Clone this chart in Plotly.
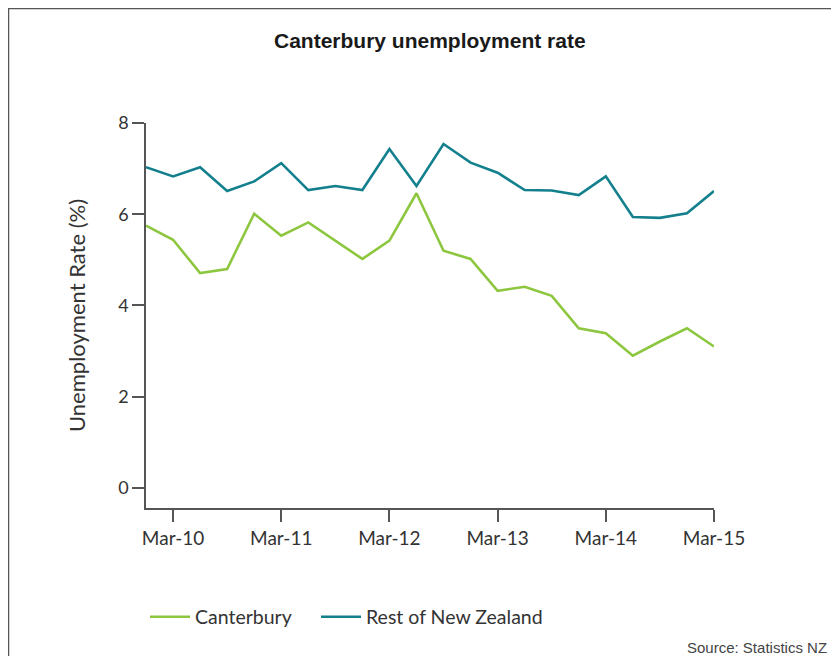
import plotly.graph_objects as go

quarters = ["Dec-09", "Mar-10", "Jun-10", "Sep-10", "Dec-10", "Mar-11", "Jun-11", "Sep-11",
            "Dec-11", "Mar-12", "Jun-12", "Sep-12", "Dec-12", "Mar-13", "Jun-13", "Sep-13",
            "Dec-13", "Mar-14", "Jun-14", "Sep-14", "Dec-14", "Mar-15"]
canterbury = [5.75, 5.44, 4.71, 4.80, 6.01, 5.53, 5.82, 5.42, 5.02, 5.42, 6.46,
              5.20, 5.02, 4.32, 4.41, 4.21, 3.50, 3.39, 2.90, 3.21, 3.50, 3.10]
rest_nz = [7.03, 6.83, 7.03, 6.51, 6.72, 7.12, 6.53, 6.62, 6.53, 7.43, 6.62,
           7.54, 7.13, 6.91, 6.53, 6.52, 6.42, 6.83, 5.94, 5.92, 6.02, 6.51]
x_ticks = ["Mar-10", "Mar-11", "Mar-12", "Mar-13", "Mar-14", "Mar-15"]
y_ticks = [0, 2, 4, 6, 8]

FONT = "Lato"
W, H = 831, 648
L, R, T, B = 138, 125, 115, 148
PW, PH = W - L - R, H - T - B


def px(x):
    return (x - L) / PW


def py(y):
    return (H - B - y) / PH


fig = go.Figure()
fig.add_trace(go.Scatter(x=quarters, y=canterbury, mode="lines", name="Canterbury",
                         line=dict(color="#8DC63F", width=2.6), legend="legend"))
fig.add_trace(go.Scatter(x=quarters, y=rest_nz, mode="lines", name="Rest of New Zealand",
                         line=dict(color="#14808E", width=2.6), legend="legend2"))

leg_common = dict(orientation="h", xanchor="left", yanchor="middle", y=py(609),
                  font=dict(size=19.5, color="#333333"), itemwidth=40,
                  bgcolor="rgba(0,0,0,0)")

fig.update_layout(
    width=W, height=H,
    margin=dict(l=L, r=R, t=T, b=B),
    paper_bgcolor="white", plot_bgcolor="white",
    font=dict(family=FONT, color="#333333", size=17),
    showlegend=True,
    legend=dict(x=px(137), **leg_common),
    legend2=dict(x=px(308), **leg_common),
    annotations=[
        dict(text="<b>Canterbury unemployment rate</b>", xref="paper", yref="paper",
             x=0.5, y=py(32), xanchor="center", yanchor="middle",
             showarrow=False, font=dict(family="Liberation Sans", size=21, color="#1a1a1a")),
        dict(text="Source: Statistics NZ", xref="paper", yref="paper",
             x=px(821), y=py(639), xanchor="right", yanchor="middle",
             showarrow=False, font=dict(family="Liberation Sans", size=15, color="#444444")),
    ],
    shapes=[
        dict(type="line", xref="paper", yref="paper", x0=px(0), x1=px(W + 5),
             y0=py(0), y1=py(0), line=dict(color="#555555", width=2.5)),
        dict(type="line", xref="paper", yref="paper", x0=px(0), x1=px(0),
             y0=py(0), y1=py(H + 5), line=dict(color="#555555", width=2.5)),
    ],
)
fig.update_xaxes(type="category", range=[0, 21], showgrid=False, showline=True,
                 linecolor="#555555", linewidth=1.5, ticks="outside", ticklen=12,
                 tickcolor="#555555", tickwidth=1.5, tickvals=x_ticks, ticktext=x_ticks,
                 tickfont=dict(size=19, color="#333333"), zeroline=False)
fig.update_yaxes(range=[-0.44, 8], showgrid=False, showline=True, linecolor="#555555",
                 linewidth=1.5, ticks="outside", ticklen=12, tickcolor="#555555", tickwidth=1.5,
                 tickvals=y_ticks, tickfont=dict(size=18, color="#333333"), zeroline=False,
                 title=dict(text="Unemployment Rate (%)", font=dict(size=22, color="#333333"),
                            standoff=26))

fig.write_html("out.html")
